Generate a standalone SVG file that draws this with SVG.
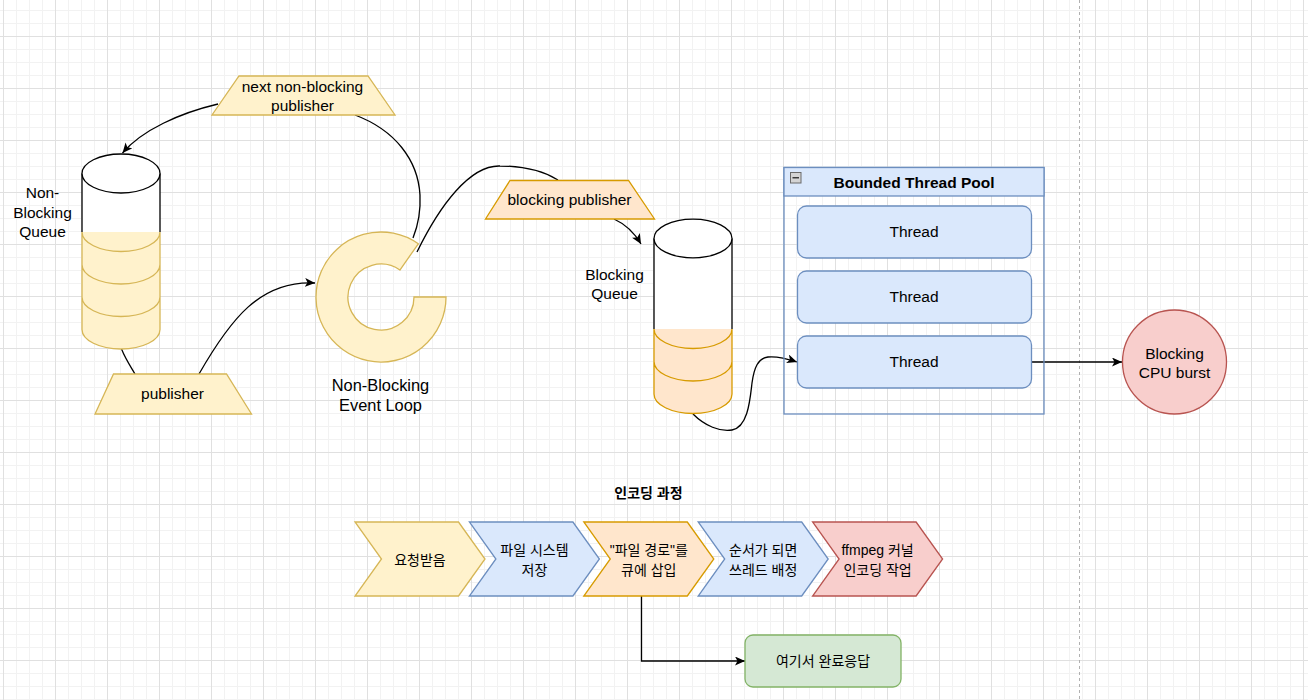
<svg xmlns="http://www.w3.org/2000/svg" width="1308" height="700" viewBox="0 0 1308 700">
<defs>
<pattern id="grid" patternUnits="userSpaceOnUse" x="3" y="-16" width="52" height="52">
<path d="M0,13.5 H52 M0,26.5 H52 M0,39.5 H52 M13.5,0 V52 M26.5,0 V52 M39.5,0 V52" stroke="#f2f2f2" stroke-width="1" fill="none"/>
<path d="M0,0.5 H52 M0.5,0 V52" stroke="#e0e0e0" stroke-width="1" fill="none"/>
</pattern>
<marker id="arr" markerWidth="12" markerHeight="10" refX="10" refY="4.5" orient="auto" markerUnits="userSpaceOnUse">
<path d="M0,0 L10,4.5 L0,9 L2.5,4.5 Z" fill="#000"/>
</marker>
<style>
text{font-family:"Liberation Sans","Noto Sans CJK KR",Arial,sans-serif;font-size:15.5px;fill:#000;text-anchor:middle}
.kr{font-family:"Liberation Sans","Noto Sans CJK KR",sans-serif;font-size:14px}
.b{font-weight:bold}
.big{font-size:16.4px}
.yel{fill:#fff2cc;stroke:#d6b656;stroke-width:1.3}
.org{fill:#ffe6cc;stroke:#d79b00;stroke-width:1.3}
.blu{fill:#dae8fc;stroke:#6c8ebf;stroke-width:1.3}
.red{fill:#f8cecc;stroke:#b85450;stroke-width:1.3}
.grn{fill:#d5e8d4;stroke:#82b366;stroke-width:1.3}
.edge{fill:none;stroke:#000;stroke-width:1.3}
.blk{fill:none;stroke:#000;stroke-width:1.3}
</style>
</defs>
<rect x="0" y="0" width="1308" height="700" fill="#fff"/>
<rect x="0" y="0" width="1308" height="700" fill="url(#grid)"/>
<line x1="1079.5" y1="0" x2="1079.5" y2="700" stroke="#b0b0b0" stroke-width="1" stroke-dasharray="3 3"/>

<g id="connectors">
<path class="edge" d="M218,104 C180,113 142,130 122.5,153" marker-end="url(#arr)"/>
<path class="edge" d="M355,115 C395,130 418,160 420,195 C421,215 417,228 413,238"/>
<path class="edge" d="M121.5,349 C126,360 131,367 135,374"/>
<path class="edge" d="M199,374 C230,320 260,280 315,283" marker-end="url(#arr)"/>
<path class="edge" d="M417,252 C440,205 470,165 500,166 C525,166 545,172 558,180"/>
<path class="edge" d="M614,219 C625,224 634,232 641,244" marker-end="url(#arr)"/>
<path class="edge" d="M693,414 C705,426 720,432 732,430 C748,427 750,400 752,383 C754,368 758,358 768,357 C778,356 788,359 797,362" marker-end="url(#arr)"/>
<path class="edge" d="M1031.5,362 H1122" marker-end="url(#arr)"/>
<path class="edge" d="M641.5,596 V661 H745" marker-end="url(#arr)"/>
</g>

<g id="next-publisher">
<path class="yel" d="M239,76 H368 L395,115 H212 Z"/>
<text x="302.5" y="91.5">next non-blocking</text>
<text x="302.5" y="111">publisher</text>
</g>

<g id="non-blocking-queue">
<path d="M82,173.5 V232 H160 V173.5 Z" fill="#fff"/>
<path class="blk" d="M82,173.5 V232 M160,173.5 V232"/>
<ellipse cx="121" cy="173.5" rx="39" ry="19.5" fill="#fff" stroke="#000" stroke-width="1.3"/>
<path d="M82,232 H160 V329.5 A39,19.5 0 0 1 82,329.5 Z" fill="#fff2cc"/>
<path d="M82,232 V329.5 M160,232 V329.5 M82,232 A39,19.5 0 0 0 160,232 M82,264.5 A39,19.5 0 0 0 160,264.5 M82,297 A39,19.5 0 0 0 160,297 M82,329.5 A39,19.5 0 0 0 160,329.5" fill="none" stroke="#d6b656" stroke-width="1.3"/>
<text x="42.5" y="198">Non-</text>
<text x="42.5" y="217.5">Blocking</text>
<text x="42.5" y="237">Queue</text>
</g>

<g id="publisher">
<path class="yel" d="M113.5,374 H226.5 L251.5,414 H95 Z"/>
<text x="172.5" y="399">publisher</text>
</g>

<g id="event-loop">
<path class="yel" d="M446,297 A65,65 0 1 1 418.3,243.8 L399.9,270 A33,33 0 1 0 414,297 Z"/>
<text class="big" x="380.5" y="390.5">Non-Blocking</text>
<text class="big" x="380.5" y="410.5">Event Loop</text>
</g>

<g id="blocking-publisher">
<path class="org" d="M510,180.5 H628.5 L654.5,219 H485.5 Z"/>
<text x="569.5" y="204.5">blocking publisher</text>
</g>

<g id="blocking-queue">
<path d="M654,238.5 V329 H732 V238.5 Z" fill="#fff"/>
<path class="blk" d="M654,238.5 V329 M732,238.5 V329"/>
<ellipse cx="693" cy="238.5" rx="39" ry="19.3" fill="#fff" stroke="#000" stroke-width="1.3"/>
<path d="M654,329 H732 V394 A39,19.5 0 0 1 654,394 Z" fill="#ffe6cc"/>
<path d="M654,329 V394 M732,329 V394 M654,329 A39,19.5 0 0 0 732,329 M654,361.5 A39,19.5 0 0 0 732,361.5 M654,394 A39,19.5 0 0 0 732,394" fill="none" stroke="#d79b00" stroke-width="1.3"/>
<text x="614.5" y="280">Blocking</text>
<text x="614.5" y="299">Queue</text>
</g>

<g id="thread-pool">
<rect x="784" y="167.5" width="260" height="246.5" fill="none" stroke="#6c8ebf" stroke-width="1.3"/>
<rect class="blu" x="784" y="167.5" width="260" height="28.5"/>
<rect x="790.5" y="172.5" width="10.5" height="10.5" fill="#d4d4d4" stroke="#6a6a6a" stroke-width="1"/>
<line x1="792.5" y1="177.75" x2="799" y2="177.75" stroke="#333" stroke-width="1.4"/>
<text class="b" x="914" y="187.5">Bounded Thread Pool</text>
</g>

<g id="thread-1">
<rect class="blu" x="797.5" y="206" width="234" height="52" rx="9"/>
<text x="914" y="237">Thread</text>
</g>
<g id="thread-2">
<rect class="blu" x="797.5" y="271" width="234" height="52" rx="9"/>
<text x="914" y="302">Thread</text>
</g>
<g id="thread-3">
<rect class="blu" x="797.5" y="336" width="234" height="52" rx="9"/>
<text x="914" y="367">Thread</text>
</g>

<g id="cpu-burst">
<circle class="red" cx="1174.5" cy="362" r="52"/>
<text x="1174.5" y="358.5">Blocking</text>
<text x="1174.5" y="377.5">CPU burst</text>
</g>

<g id="encoding-title">
<text class="kr b" x="648.5" y="498">인코딩 과정</text>
</g>

<g id="step-1">
<path class="yel" d="M355,522 H458.5 L485,559 L458.5,596 H355 L381.5,559 Z"/>
<text class="kr" x="420" y="565">요청받음</text>
</g>
<g id="step-2">
<path class="blu" d="M469.4,522 H572.9 L599.4,559 L572.9,596 H469.4 L495.9,559 Z"/>
<text class="kr" x="534.4" y="555">파일 시스템</text>
<text class="kr" x="534.4" y="574.5">저장</text>
</g>
<g id="step-3">
<path class="org" d="M583.8,522 H687.3 L713.8,559 L687.3,596 H583.8 L610.3,559 Z"/>
<text class="kr" x="648.8" y="555">"파일 경로"를</text>
<text class="kr" x="648.8" y="574.5">큐에 삽입</text>
</g>
<g id="step-4">
<path class="blu" d="M698.2,522 H801.7 L828.2,559 L801.7,596 H698.2 L724.7,559 Z"/>
<text class="kr" x="763.2" y="555">순서가 되면</text>
<text class="kr" x="763.2" y="574.5">쓰레드 배정</text>
</g>
<g id="step-5">
<path class="red" d="M812.6,522 H916.1 L942.6,559 L916.1,596 H812.6 L839.1,559 Z"/>
<text class="kr" x="877.6" y="555">ffmpeg 커널</text>
<text class="kr" x="877.6" y="574.5">인코딩 작업</text>
</g>

<g id="done-response">
<rect class="grn" x="745" y="635" width="156" height="52" rx="8"/>
<text class="kr" x="823" y="666">여기서 완료응답</text>
</g>
</svg>
